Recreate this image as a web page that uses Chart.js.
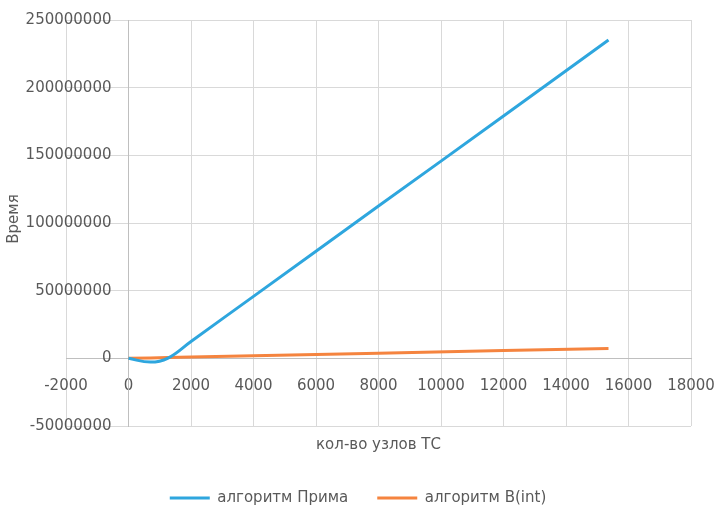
<!DOCTYPE html>
<html>
<head>
<meta charset="utf-8">
<script src="https://cdn.jsdelivr.net/npm/chart.js@4/dist/chart.umd.min.js"></script>
<style>
  html, body { margin: 0; padding: 0; background: #ffffff; }
  #wrap { width: 716px; height: 509px; }
</style>
</head>
<body>
<div id="wrap"><canvas id="c" width="716" height="509"></canvas></div>
<script>
// ---- data ----
const nodeCounts = [0, 700, 1250, 2000, 4000, 8000, 12000, 15360];
const primTimes  = [0, -2800000, 0, 12500000, 45800000, 112500000, 179000000, 235200000];
const bintTimes  = [0, 330000, 600000, 950000, 1900000, 3800000, 5700000, 7300000];
const seriesNames = ['алгоритм Прима', 'алгоритм B(int)'];
const xTitle = 'кол-во узлов ТС';
const yTitle = 'Время';
const xTickRange = [-2000, 18000, 2000];
const yTickRange = [-50000000, 250000000, 50000000];

const TEXT = '#595959';
const FONT = 'DejaVu Sans';
const Y_LABEL_GAP = 17;

const toPoints = (xs, ys) => xs.map((x, i) => ({ x: x, y: ys[i] }));

const extras = {
  id: 'extras',
  afterLayout(chart) {
    const L = chart.legend;
    if (!L) return;
    const dx = chart.width / 2 - (L.left + L.right) / 2;
    L.left += dx; L.right += dx;
    const p = L.options.labels.padding;
    const newTop = 498 - p - 7.5;
    const dy = newTop - L.top;
    L.top += dy; L.bottom += dy;
  },
  beforeDraw(chart) {
    // y axis sits at x = 0 inside the plot; move its labels left of the tick marks
    const ys = chart.scales.y;
    const items = ys._labelItems || (ys._labelItems = ys._computeLabelItems(chart.chartArea));
    if (!items._shifted) {
      items.forEach(it => { it.options.translation[0] -= Y_LABEL_GAP; });
      items._shifted = true;
    }
  },
  afterDraw(chart) {
    const ctx = chart.ctx;
    ctx.save();
    ctx.translate(14, 219);
    ctx.rotate(-Math.PI / 2);
    ctx.font = '15px "' + FONT + '"';
    ctx.fillStyle = TEXT;
    ctx.textAlign = 'center';
    ctx.textBaseline = 'middle';
    ctx.fillText(yTitle, 0, 0);
    ctx.restore();
  }
};

new Chart(document.getElementById('c'), {
  type: 'line',
  data: {
    datasets: [
      {
        label: seriesNames[0],
        data: toPoints(nodeCounts, primTimes),
        borderColor: '#2ea6de',
        backgroundColor: '#2ea6de',
        borderWidth: 3,
        pointRadius: 0,
        tension: 0.4,
        fill: false
      },
      {
        label: seriesNames[1],
        data: toPoints(nodeCounts, bintTimes),
        borderColor: '#f5843f',
        backgroundColor: '#f5843f',
        borderWidth: 3,
        pointRadius: 0,
        tension: 0,
        fill: false
      }
    ]
  },
  options: {
    responsive: false,
    animation: false,
    devicePixelRatio: 1,
    layout: { padding: { left: 66, right: 25, top: 20, bottom: 1 } },
    scales: {
      x: {
        type: 'linear',
        position: { y: 0 },
        min: xTickRange[0], max: xTickRange[1],
        ticks: {
          stepSize: xTickRange[2], autoSkip: false, maxRotation: 0,
          color: TEXT, font: { family: FONT, size: 15 }, padding: 0,
          callback: v => String(v)
        },
        grid: { color: '#d9d9d9', lineWidth: 1, drawTicks: true, tickLength: 19 },
        border: { color: '#bfbfbf', width: 1 }
      },
      y: {
        type: 'linear',
        position: { x: 0 },
        min: yTickRange[0], max: yTickRange[1],
        ticks: {
          stepSize: yTickRange[2], autoSkip: false,
          color: TEXT, font: { family: FONT, size: 15 }, padding: 0,
          callback: v => String(v)
        },
        grid: { color: '#d9d9d9', lineWidth: 1, tickLength: 15 },
        border: { color: '#bfbfbf', width: 1 }
      }
    },
    plugins: {
      legend: {
        position: 'bottom',
        labels: {
          boxWidth: 40, boxHeight: 0, padding: 29,
          color: TEXT, font: { family: FONT, size: 15 }
        }
      },
      title: {
        display: true,
        text: xTitle,
        position: 'bottom',
        weight: 500,
        color: TEXT,
        font: { family: FONT, size: 15, weight: 'normal' },
        padding: { top: 10, bottom: 0 }
      },
      tooltip: { enabled: false }
    }
  },
  plugins: [extras]
});
</script>
</body>
</html>
